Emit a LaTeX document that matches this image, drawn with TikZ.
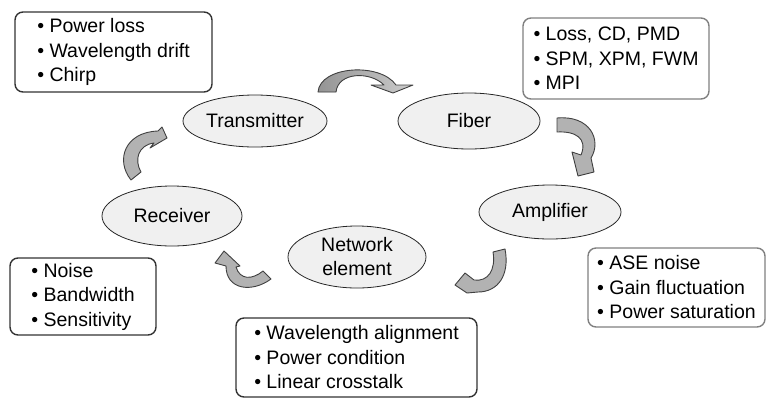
\documentclass[tikz,border=0pt]{standalone}
\usepackage{fontspec}
\setmainfont{Liberation Sans}
\usetikzlibrary{shapes.geometric}
\begin{document}
\begin{tikzpicture}[x=1pt,y=-1pt,
  stage/.style={ellipse, draw=black!85, line width=0.8pt, fill=black!6,
    inner sep=0pt, align=center, font=\fontsize{19.5}{24}\selectfont},
  issues/.style={draw=black!80, rounded corners=8pt, line width=1.4pt,
    inner sep=0pt, align=left, font=\fontsize{19.5}{24.5}\selectfont,
    execute at begin node={\rule{0pt}{20.5pt}}},
  softissues/.style={issues, draw=black!50},
  turn/.style={draw=black!75, line width=0.9pt, fill=black!30, line join=round}]
\useasboundingbox (0,0) rectangle (767,400);

% stages of the link
\node[stage, minimum width=144, minimum height=52] (tx)  at (255,121) {Transmitter};
\node[stage, minimum width=142, minimum height=56] (fib) at (469,121) {Fiber};
\node[stage, minimum width=142, minimum height=54] (amp) at (550,212) {Amplifier};
\node[stage, minimum width=140, minimum height=60] (rx)  at (172,216) {Receiver};
\node[stage, minimum width=138, minimum height=62] (ne)  at (357,257) {Network\\element};

% impairments of each stage
\node[issues, minimum width=197, minimum height=80] (txi) at (113.5,52)
  {\textbullet\ Power loss\\\textbullet\ Wavelength drift\\\textbullet\ Chirp};
\node[softissues, minimum width=186, minimum height=81] (fibi) at (616,58.5)
  {\textbullet\ Loss, CD, PMD\\\textbullet\ SPM, XPM, FWM\\\textbullet\ MPI};
\node[softissues, minimum width=177, minimum height=79] (ampi) at (676.5,287.5)
  {\textbullet\ ASE noise\\\textbullet\ Gain fluctuation\\\textbullet\ Power saturation};
\node[issues, minimum width=146, minimum height=77] (rxi) at (83,296.5)
  {\textbullet\ Noise\\\textbullet\ Bandwidth\\\textbullet\ Sensitivity};
\node[issues, minimum width=241, minimum height=79] (nei) at (356.5,357.5)
  {\textbullet\ Wavelength alignment\\\textbullet\ Power condition\\\textbullet\ Linear crosstalk};

% curved block arrows running round the loop
% transmitter -> fiber
\path[turn, left color=black!42, right color=black!20] (318,92) .. controls (320,66) and (380,62) .. (396,85) -- (413,85)
  -- (393,93) -- (371,85) -- (384,85) .. controls (370,71) and (338,72) .. (336,92) -- cycle;
% fiber -> amplifier
\path[turn] (557,118) .. controls (590,115) and (602,140) .. (591,158) -- (594,172)
  -- (578,176) -- (572,152) -- (581,155) .. controls (588,138) and (575,131) .. (557,132) -- cycle;
% amplifier -> network element
\path[turn] (505,249) .. controls (510,275) and (498,292) .. (478,292) -- (467,293)
  -- (455,285) -- (465,273) -- (474,280) .. controls (488,282) and (496,270) .. (493,252) -- cycle;
% network element -> receiver
\path[turn] (271,279) .. controls (252,293) and (226,290) .. (226,266) -- (215,263)
  -- (224,251) -- (240,266) -- (236,267) .. controls (240,280) and (252,280) .. (263,271) -- cycle;
% receiver -> transmitter
\path[turn] (131,180) .. controls (115,160) and (125,132) .. (158,131) -- (162,127)
  -- (167,138) -- (150,148) -- (154,143) .. controls (138,145) and (134,160) .. (141,172) -- cycle;
\end{tikzpicture}
\end{document}
